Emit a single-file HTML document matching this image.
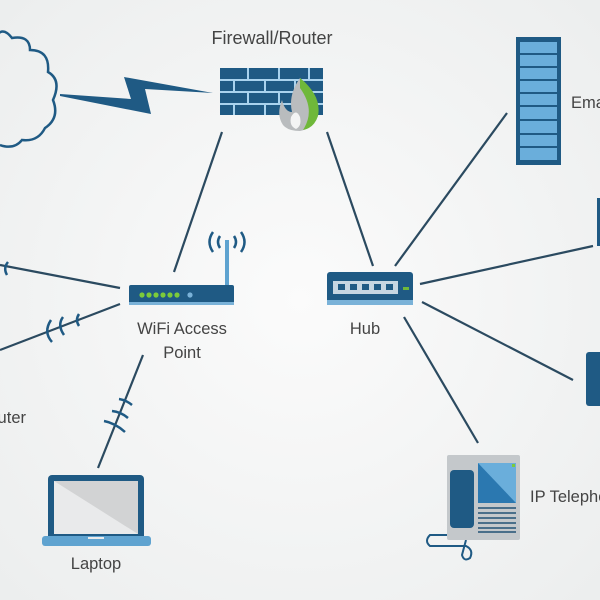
<!DOCTYPE html>
<html><head><style>
html,body{margin:0;padding:0;background:#f3f4f4;}
svg{display:block;}
text{font-family:"Liberation Sans",sans-serif;fill:#444;font-size:16.5px;}
</style></head><body>
<svg width="600" height="600" viewBox="0 0 600 600">
<defs>
<radialGradient id="bg" cx="50%" cy="50%" r="70%"><stop offset="0" stop-color="#fbfbfb"/><stop offset="1" stop-color="#eceeee"/></radialGradient>
</defs>
<rect width="600" height="600" fill="url(#bg)"/>
<path d="M-5,38 Q2,25 12,38 Q30,35 30,50 Q50,50 48,72 Q62,80 53,100 Q60,118 45,128 Q38,142 22,140 Q14,150 0,145" fill="none" stroke="#1f5a84" stroke-width="2.5"/>
<polygon points="60,94 131,99 124,77 213,93 145,89 151,114 60,96" fill="#1f5a84"/>
<rect x="220" y="68" width="103" height="47" fill="#1f5a84"/>
<g stroke="#a9d3ee" stroke-width="2">
<line x1="220" y1="80" x2="323" y2="80"/><line x1="220" y1="92" x2="323" y2="92"/><line x1="220" y1="104" x2="323" y2="104"/>
<line x1="248" y1="68" x2="248" y2="80"/><line x1="279" y1="68" x2="279" y2="80"/><line x1="309" y1="68" x2="309" y2="80"/>
<line x1="234" y1="80" x2="234" y2="92"/><line x1="265" y1="80" x2="265" y2="92"/><line x1="295" y1="80" x2="295" y2="92"/>
<line x1="248" y1="92" x2="248" y2="104"/><line x1="279" y1="92" x2="279" y2="104"/><line x1="309" y1="92" x2="309" y2="104"/>
<line x1="234" y1="104" x2="234" y2="115"/><line x1="265" y1="104" x2="265" y2="115"/><line x1="295" y1="104" x2="295" y2="115"/>
</g>
<path d="M300,78 Q320,95 318,112 Q315,128 300,131 Q288,131 283,125 Q276,115 282,100 Q285,112 292,112 Q288,95 300,78Z" fill="#b9bcbe"/>
<path d="M300,78 Q322,96 318,116 Q314,128 303,130 Q316,110 300,88 Z" fill="#6fb83a"/>
<path d="M291,117 Q296,108 300,117 Q302,126 296,129 Q289,126 291,117Z" fill="#f3f4f4"/>
<text x="272" y="44" text-anchor="middle" style="font-size:18px">Firewall/Router</text>
<g stroke="#2b4a60" stroke-width="2.2">
<line x1="222" y1="132" x2="174" y2="272"/>
<line x1="327" y1="132" x2="373" y2="266"/>
<line x1="395" y1="266" x2="507" y2="113"/>
<line x1="420" y1="284" x2="593" y2="246"/>
<line x1="422" y1="302" x2="573" y2="380"/>
<line x1="404" y1="317" x2="478" y2="443"/>
<line x1="120" y1="288" x2="0" y2="265"/>
<line x1="120" y1="304" x2="0" y2="350"/>
<line x1="143" y1="355" x2="98" y2="468"/>
</g>
<g fill="none" stroke="#1f5a84" stroke-width="2.5">
<path d="M8,262 Q3,268 7,275"/>
<path d="M79,314 Q75,320 79,326"/>
<path d="M63,317 Q57,325 64,335"/>
<path d="M51,320 Q43,332 52,342"/>
<path d="M119,399 Q126,400 132,405"/>
<path d="M112,411 Q121,412 128,418"/>
<path d="M104,421 Q115,423 125,432"/>
</g>
<rect x="225" y="240" width="4" height="46" fill="#5fa3d0"/>
<g fill="none" stroke="#1f5a84" stroke-width="2.5">
<path d="M213,232 Q206,242 213,252"/><path d="M220,236 Q216,242 220,248"/>
<path d="M241,232 Q248,242 241,252"/><path d="M234,236 Q238,242 234,248"/>
</g>
<rect x="129" y="285" width="105" height="20" rx="2" fill="#1f5a84"/>
<rect x="129" y="302" width="105" height="3" fill="#7ab2d8"/>
<g fill="#7ccb3a"><circle cx="142" cy="295" r="2.6"/><circle cx="149" cy="295" r="2.6"/><circle cx="156" cy="295" r="2.6"/><circle cx="163" cy="295" r="2.6"/><circle cx="170" cy="295" r="2.6"/><circle cx="177" cy="295" r="2.6"/></g>
<circle cx="190" cy="295" r="2.6" fill="#7ab2d8"/>
<text x="182" y="334" text-anchor="middle">WiFi Access</text>
<text x="182" y="358" text-anchor="middle">Point</text>
<rect x="327" y="272" width="86" height="33" rx="3" fill="#1f5a84"/>
<rect x="327" y="300" width="86" height="5" fill="#7ab2d8"/>
<rect x="333" y="281" width="65" height="13" fill="#c6d6e2"/>
<g fill="#1f5a84"><rect x="338" y="284" width="7" height="6"/><rect x="350" y="284" width="7" height="6"/><rect x="362" y="284" width="7" height="6"/><rect x="374" y="284" width="7" height="6"/><rect x="386" y="284" width="7" height="6"/></g>
<rect x="403" y="287" width="6" height="3" fill="#6fb83a"/>
<text x="365" y="334" text-anchor="middle">Hub</text>
<rect x="516" y="37" width="45" height="128" fill="#1f5a84"/>
<g fill="#6aaedb">
<rect x="520" y="42" width="37" height="11"/><rect x="520" y="55" width="37" height="11"/><rect x="520" y="68" width="37" height="11"/><rect x="520" y="81" width="37" height="11"/><rect x="520" y="94" width="37" height="11"/><rect x="520" y="107" width="37" height="12"/><rect x="520" y="121" width="37" height="12"/><rect x="520" y="135" width="37" height="11"/><rect x="520" y="148" width="37" height="12"/>
</g>
<text x="571" y="108">Email</text>
<rect x="597" y="198" width="6" height="48" fill="#1f5a84"/>
<rect x="586" y="352" width="20" height="54" rx="3" fill="#1f5a84"/>
<text x="26" y="423" text-anchor="end">Computer</text>
<rect x="48" y="475" width="96" height="65" rx="4" fill="#1f5a84"/>
<rect x="54" y="481" width="84" height="53" fill="#e9eaeb"/>
<polygon points="54,481 138,481 138,534" fill="#d2d3d4"/>
<rect x="42" y="536" width="109" height="10" rx="3" fill="#5fa3d0"/>
<rect x="88" y="537" width="16" height="2" fill="#e9eaeb"/>
<text x="96" y="569" text-anchor="middle">Laptop</text>
<path d="M453,535 L430,535 Q424,541 430,546 L466,546 Q474,550 470,558 Q464,562 462,555 L466,540" fill="none" stroke="#1f5a84" stroke-width="2"/>
<rect x="447" y="455" width="73" height="85" rx="2" fill="#c4c8cb"/>
<rect x="450" y="470" width="24" height="58" rx="4" fill="#1f5a84"/>
<rect x="478" y="463" width="38" height="40" fill="#6aaedb"/>
<polygon points="478,463 516,503 478,503" fill="#2b78b0"/>
<rect x="512" y="464" width="3" height="3" fill="#7ccb3a"/>
<g fill="#4a6f8a"><rect x="478" y="507" width="38" height="2"/><rect x="478" y="512" width="38" height="2"/><rect x="478" y="517" width="38" height="2"/><rect x="478" y="522" width="38" height="2"/><rect x="478" y="527" width="38" height="2"/><rect x="478" y="531" width="38" height="2"/></g>
<text x="530" y="502">IP Telephone</text>
</svg>
</body></html>
